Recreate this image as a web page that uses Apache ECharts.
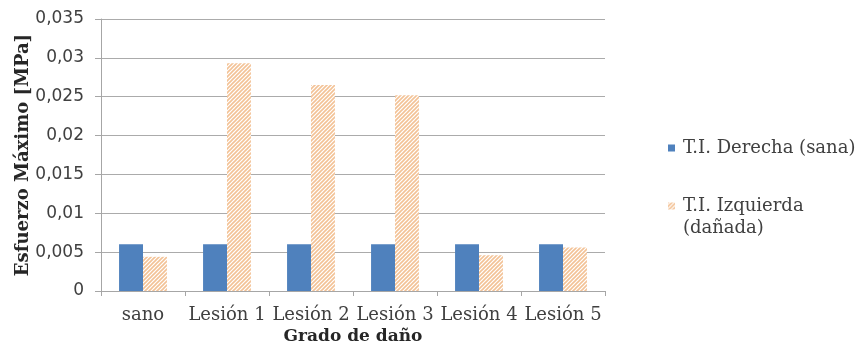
<!DOCTYPE html>
<html><head><meta charset="utf-8">
<script src="https://cdn.jsdelivr.net/npm/echarts@6/dist/echarts.min.js"></script>
<style>html,body{margin:0;padding:0;background:#fff}#c{width:865px;height:352px}</style>
</head><body><div id="c"></div>
<script>
const categories = ['sano', 'Lesión 1', 'Lesión 2', 'Lesión 3', 'Lesión 4', 'Lesión 5'];
const seriesNames = ['T.I. Derecha (sana)', 'T.I. Izquierda\n(dañada)'];
const derecha = [0.0060, 0.0060, 0.0060, 0.0060, 0.0060, 0.0060];
const izquierda = [0.0044, 0.0293, 0.0265, 0.0252, 0.0046, 0.0056];
const yTicks = { min: 0, max: 0.035, interval: 0.005 };

function hatch() {
  const c = document.createElement('canvas');
  c.width = 4; c.height = 4;
  const g = c.getContext('2d');
  g.fillStyle = '#ffffff'; g.fillRect(0, 0, 4, 4);
  g.strokeStyle = '#F3C296'; g.lineWidth = 1.6;
  g.beginPath();
  g.moveTo(-1, 5); g.lineTo(5, -1);
  g.moveTo(-1, 1); g.lineTo(1, -1);
  g.moveTo(3, 5); g.lineTo(5, 3);
  g.stroke();
  return { image: c, repeat: 'repeat' };
}
const pat = hatch();
const serif = 'DejaVu Serif';
const txt = '#404040';
const legText = { fontFamily: serif, fontSize: 18, color: txt, lineHeight: 22 };

const chart = echarts.init(document.getElementById('c'), null, { renderer: 'canvas' });
chart.setOption({
  animation: false,
  grid: { left: 101, right: 260, top: 19, bottom: 61 },
  legend: [
    { data: [{ name: seriesNames[0], icon: 'path://M0,0h7v7h-7z M10,0h0.01v0.01h-0.01z' }],
      orient: 'vertical', left: 668, top: 137, padding: 0,
      itemWidth: 10, itemHeight: 7, textStyle: legText },
    { data: [{ name: seriesNames[1], icon: 'path://M0,0h7v7h-7z M10,29h0.01v0.01h-0.01z' }],
      orient: 'vertical', left: 668, top: 195, padding: 0,
      itemWidth: 10, itemHeight: 29, textStyle: legText }
  ],
  xAxis: {
    type: 'category', data: categories,
    name: 'Grado de daño', nameLocation: 'middle', nameGap: 37, nameMoveOverlap: false,
    nameTextStyle: { fontFamily: serif, fontWeight: 'bold', fontSize: 17, color: '#262626' },
    axisLine: { lineStyle: { color: '#A6A6A6', width: 1 } },
    axisTick: { show: true, length: 5, interval: 0, lineStyle: { color: '#A6A6A6' } },
    axisLabel: { interval: 0, margin: 15, fontFamily: serif, fontSize: 18, color: txt }
  },
  yAxis: {
    type: 'value', min: yTicks.min, max: yTicks.max, interval: yTicks.interval,
    name: 'Esfuerzo Máximo [MPa]', nameLocation: 'middle', nameGap: 69, nameMoveOverlap: false,
    nameTextStyle: { fontFamily: serif, fontWeight: 'bold', fontSize: 18, color: '#262626' },
    axisLine: { show: true, lineStyle: { color: '#A6A6A6', width: 1 } },
    axisTick: { show: true, length: 6, lineStyle: { color: '#A6A6A6' } },
    splitLine: { lineStyle: { color: '#ABABAB', width: 1 } },
    axisLabel: {
      margin: 17, fontFamily: 'DejaVu Sans', fontSize: 17, color: txt,
      formatter: v => v === 0 ? '0' : String(+v.toFixed(3)).replace('.', ',')
    }
  },
  series: [
    { name: seriesNames[0], type: 'bar', data: derecha, barGap: '0%', barCategoryGap: '43%',
      itemStyle: { color: '#4F81BD' } },
    { name: seriesNames[1], type: 'bar', data: izquierda, barGap: '0%', barCategoryGap: '43%',
      itemStyle: { color: pat } }
  ]
});
</script></body></html>
